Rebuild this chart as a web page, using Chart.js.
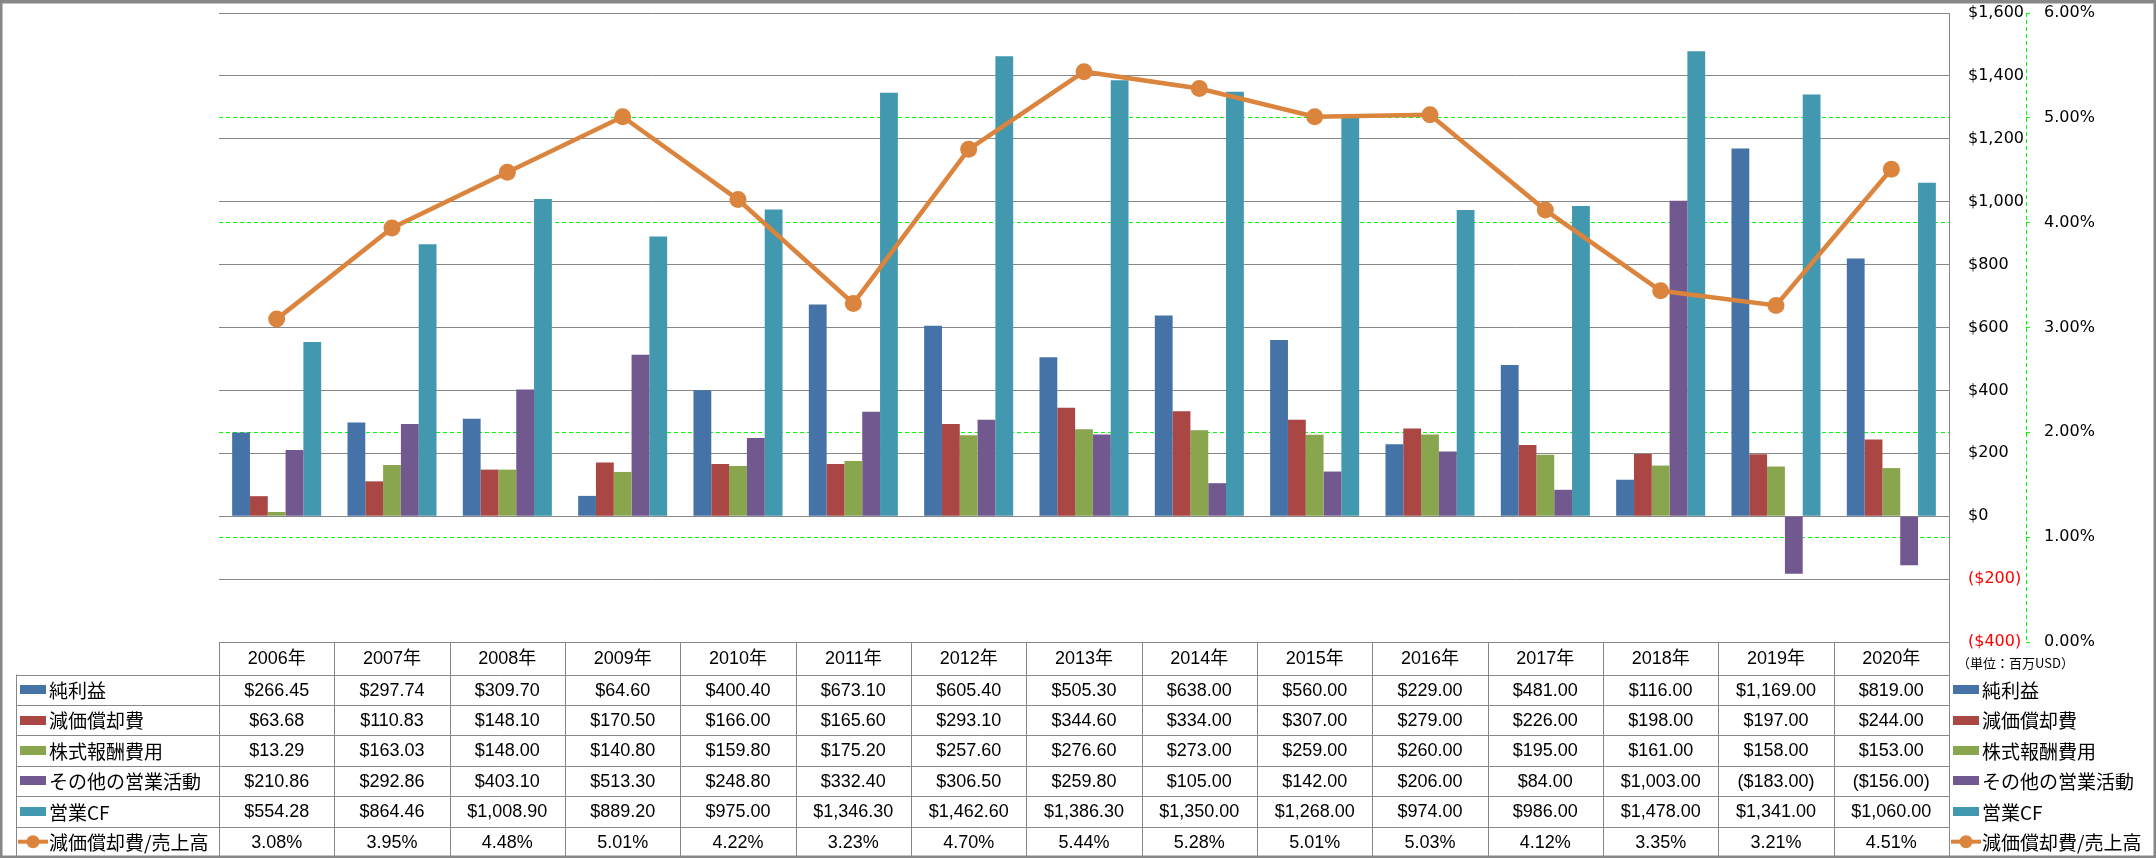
<!DOCTYPE html>
<html>
<head>
<meta charset="utf-8">
<script src="https://cdn.jsdelivr.net/npm/chart.js@4/dist/chart.umd.min.js"></script>
<style>
  html, body { margin: 0; padding: 0; background: #fff; }
  canvas { display: block; }
</style>
</head>
<body>
<canvas id="cfChart" width="2156" height="858"></canvas>
<script>
// categories
const years = ['2006年', '2007年', '2008年', '2009年', '2010年', '2011年', '2012年', '2013年',
               '2014年', '2015年', '2016年', '2017年', '2018年', '2019年', '2020年'];

// series (百万USD)
const netIncome    = [266.45, 297.74, 309.70, 64.60, 400.40, 673.10, 605.40, 505.30, 638.00, 560.00, 229.00, 481.00, 116.00, 1169.00, 819.00];
const depreciation = [63.68, 110.83, 148.10, 170.50, 166.00, 165.60, 293.10, 344.60, 334.00, 307.00, 279.00, 226.00, 198.00, 197.00, 244.00];
const stockComp    = [13.29, 163.03, 148.00, 140.80, 159.80, 175.20, 257.60, 276.60, 273.00, 259.00, 260.00, 195.00, 161.00, 158.00, 153.00];
const otherOps     = [210.86, 292.86, 403.10, 513.30, 248.80, 332.40, 306.50, 259.80, 105.00, 142.00, 206.00, 84.00, 1003.00, -183.00, -156.00];
const operatingCF  = [554.28, 864.46, 1008.90, 889.20, 975.00, 1346.30, 1462.60, 1386.30, 1350.00, 1268.00, 974.00, 986.00, 1478.00, 1341.00, 1060.00];
// 減価償却費/売上高 (%)
const depRatio     = [3.08, 3.95, 4.48, 5.01, 4.22, 3.23, 4.70, 5.44, 5.28, 5.01, 5.03, 4.12, 3.35, 3.21, 4.51];

// axis ranges
const usdMin = -400, usdMax = 1600, usdStep = 200;
const pctMin = 0, pctMax = 6, pctStep = 1;
const unitLabel = '（単位：百万USD）';

const GRAY = '#878787';
const GREEN = '#00ff00';

const money = function(v) {
    const s = Math.abs(v).toLocaleString('en-US', { minimumFractionDigits: 2, maximumFractionDigits: 2 });
    return v < 0 ? '($' + s + ')' : '$' + s;
};
const pct = v => v.toFixed(2) + '%';

const bars = [
    { label: '純利益', data: netIncome, color: '#4572A7' },
    { label: '減価償却費', data: depreciation, color: '#AA4643' },
    { label: '株式報酬費用', data: stockComp, color: '#89A54E' },
    { label: 'その他の営業活動', data: otherOps, color: '#71588F' },
    { label: '営業CF', data: operatingCF, color: '#4198AF' },
];
const lineColor = '#DB843D';

// table rows under the plot, same order as the legend
const rows = bars.map(b => ({ label: b.label, color: b.color, kind: 'bar', text: b.data.map(money) }));
rows.push({ label: '減価償却費/売上高', color: lineColor, kind: 'line', text: depRatio.map(pct) });

const crisp = v => Math.round(v) + 0.5;

const drawKey = function(ctx, row, x, y, w) {
    ctx.fillStyle = row.color;
    if (row.kind === 'bar') {
        ctx.fillRect(x, Math.round(y - 4.5), w, 9);
    } else {
        ctx.strokeStyle = row.color;
        ctx.lineWidth = 4;
        ctx.beginPath();
        ctx.moveTo(x - 2, y);
        ctx.lineTo(x + w + 2, y);
        ctx.stroke();
        ctx.beginPath();
        ctx.arc(x + w / 2, y, 6.5, 0, Math.PI * 2);
        ctx.fill();
    }
};

// data table + side legend + outer frame
const dataTable = {
    id: 'dataTable',
    beforeDatasetsDraw(chart) {
        // dashed axis line of the % scale
        const ctx = chart.ctx;
        const s = chart.scales.y1;
        ctx.save();
        ctx.strokeStyle = GREEN;
        ctx.lineWidth = 1;
        ctx.setLineDash([4, 3]);
        ctx.beginPath();
        ctx.moveTo(crisp(s.left), s.top);
        ctx.lineTo(crisp(s.left), s.bottom);
        ctx.stroke();
        ctx.restore();
    },
    afterDraw(chart) {
        const ctx = chart.ctx;
        const x = chart.scales.x;
        const area = chart.chartArea;
        const colW = x.getPixelForValue(1) - x.getPixelForValue(0);
        const left = x.getPixelForValue(0) - colW / 2;
        const right = left + colW * years.length;
        const top = area.bottom;
        const headH = 32.5;
        const rowH = 30.4;
        const labelLeft = 16;
        const bottom = top + headH + rowH * rows.length;

        ctx.save();
        ctx.strokeStyle = GRAY;
        ctx.lineWidth = 1;
        ctx.beginPath();
        // horizontal lines
        ctx.moveTo(left, crisp(top));
        ctx.lineTo(right, crisp(top));
        for (let r = 0; r <= rows.length; r++) {
            const y = crisp(top + headH + rowH * r);
            ctx.moveTo(labelLeft, y);
            ctx.lineTo(right, y);
        }
        // vertical lines
        ctx.moveTo(crisp(labelLeft), top + headH);
        ctx.lineTo(crisp(labelLeft), bottom);
        for (let c = 0; c < years.length; c++) {
            const xx = crisp(left + colW * c);
            ctx.moveTo(xx, top);
            ctx.lineTo(xx, bottom);
        }
        ctx.moveTo(crisp(right), area.top);
        ctx.lineTo(crisp(right), bottom);
        ctx.stroke();

        // header
        ctx.fillStyle = '#000';
        ctx.textAlign = 'center';
        ctx.textBaseline = 'middle';
        ctx.font = '18px "Liberation Sans", "Noto Sans CJK JP"';
        years.forEach((yr, c) => ctx.fillText(yr, left + colW * (c + 0.5), top + headH / 2 + 1));

        // rows
        rows.forEach((row, r) => {
            const cy = top + headH + rowH * (r + 0.5) + 1;
            ctx.font = '18px "Liberation Sans"';
            ctx.textAlign = 'center';
            ctx.fillStyle = '#000';
            row.text.forEach((t, c) => ctx.fillText(t, left + colW * (c + 0.5), cy));

            ctx.font = '19px "Noto Sans CJK JP"';
            ctx.textAlign = 'left';
            drawKey(ctx, row, 20, cy - 1, 26);
            ctx.fillStyle = '#000';
            ctx.fillText(row.label, 49, cy);

            drawKey(ctx, row, right + 4, cy - 1, 26);
            ctx.fillStyle = '#000';
            ctx.fillText(row.label, right + 33, cy);
        });

        ctx.font = '13px "Noto Sans CJK JP"';
        ctx.textAlign = 'left';
        ctx.fillText(unitLabel, right + 8, top + 21);

        // outer frame
        ctx.strokeStyle = GRAY;
        ctx.strokeRect(0.5, 1.5, chart.width - 1, chart.height - 2);
        ctx.restore();
    }
};

const ctx = document.getElementById('cfChart').getContext('2d');
Chart.defaults.font.family = '"DejaVu Sans", sans-serif';
Chart.defaults.font.size = 16;
Chart.defaults.color = '#000';

const datasets = bars.map(b => ({
    type: 'bar',
    label: b.label,
    data: b.data,
    backgroundColor: b.color,
    borderWidth: 0,
    yAxisID: 'y',
    order: 1,
}));
datasets.push({
    type: 'line',
    label: '減価償却費/売上高',
    data: depRatio,
    borderColor: lineColor,
    backgroundColor: lineColor,
    borderWidth: 4.5,
    pointRadius: 8.5,
    pointBorderWidth: 0,
    pointBackgroundColor: lineColor,
    tension: 0,
    yAxisID: 'y1',
    order: 0,
});

const cfChart = new Chart(ctx, {
    data: { labels: years, datasets: datasets },
    options: {
        responsive: false,
        animation: false,
        layout: { padding: { left: 219, top: 13, bottom: 216, right: 0 } },
        plugins: {
            legend: { display: false },
            tooltip: { enabled: false },
        },
        datasets: {
            bar: { barPercentage: 1.0, categoryPercentage: 0.772 },
        },
        scales: {
            x: { display: false },
            y: {
                position: 'right',
                weight: 0,
                min: usdMin,
                max: usdMax,
                ticks: {
                    stepSize: usdStep,
                    padding: 19,
                    color: c => c.tick.value < 0 ? '#ff0000' : '#000',
                    callback: v => v < 0 ? '($' + Math.abs(v).toLocaleString('en-US') + ')' : '$' + v.toLocaleString('en-US'),
                },
                grid: { color: GRAY, lineWidth: 1, drawTicks: false },
                border: { display: true, color: GRAY, width: 1 },
                afterFit: s => { s.width = 77; s.paddingTop = 0; s.paddingBottom = 0; },
            },
            y1: {
                position: 'right',
                weight: 1,
                min: pctMin,
                max: pctMax,
                ticks: { stepSize: pctStep, padding: 14, callback: v => pct(v) },
                grid: {
                    color: c => [0, 3, 6].includes(c.tick.value) ? 'rgba(0,0,0,0)' : GREEN,
                    tickColor: GREEN,
                    tickLength: 4,
                    lineWidth: 1,
                },
                border: { display: false, dash: [4, 3] },
                afterFit: s => { s.width = 130; s.paddingTop = 0; s.paddingBottom = 0; },
            },
        },
    },
    plugins: [dataTable],
});
</script>
</body>
</html>
